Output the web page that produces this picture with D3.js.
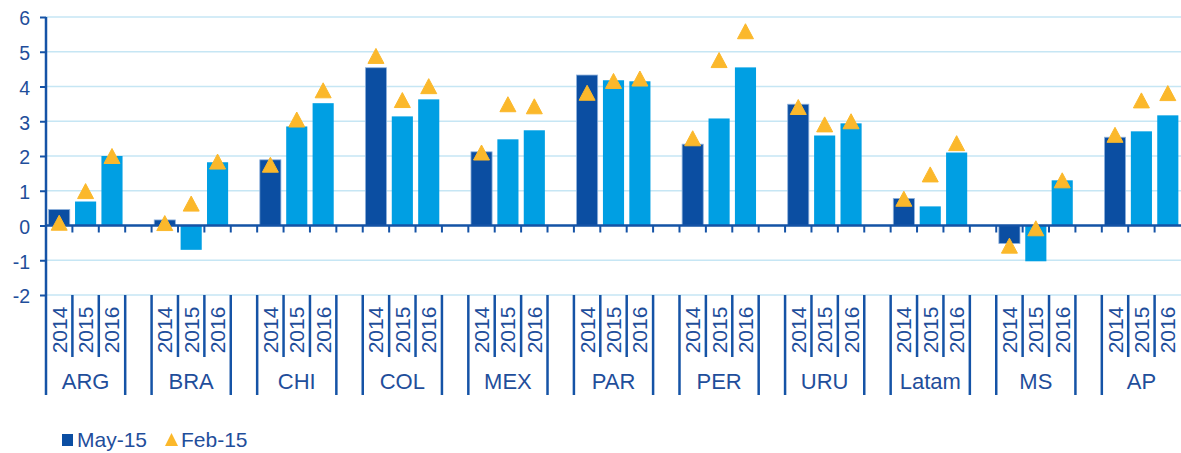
<!DOCTYPE html>
<html>
<head>
<meta charset="utf-8">
<script src="https://cdn.jsdelivr.net/npm/d3@7"></script>
<style>
  html, body { margin: 0; padding: 0; background: #fff; }
  svg { display: block; font-family: "Liberation Sans", Arial, sans-serif; }
</style>
</head>
<body>
<svg id="chart" width="1181" height="453"></svg>
<script>
// ---- data ----
const categories = ["ARG", "BRA", "CHI", "COL", "MEX", "PAR", "PER", "URU", "Latam", "MS", "AP"];
const years = ["2014", "2015", "2016"];
// May-15 forecasts, in category order, 2014/2015/2016 for each
const may15 = [
  0.46, 0.69, 2.00,
  0.16, -0.70, 1.82,
  1.89, 2.85, 3.52,
  4.54, 3.14, 3.63,
  2.12, 2.48, 2.74,
  4.33, 4.18, 4.15,
  2.34, 3.08, 4.55,
  3.49, 2.59, 2.94,
  0.78, 0.55, 2.10,
  -0.52, -1.03, 1.30,
  2.54, 2.71, 3.17
];
// Feb-15 forecasts
const feb15 = [
  0.08, 0.99, 2.00,
  0.07, 0.63, 1.84,
  1.75, 3.05, 3.89,
  4.88, 3.61, 4.01,
  2.10, 3.49, 3.43,
  3.82, 4.16, 4.23,
  2.51, 4.76, 5.59,
  3.41, 2.91, 3.00,
  0.77, 1.47, 2.37,
  -0.58, -0.08, 1.30,
  2.61, 3.60, 3.81
];
const yTicks = [-2, -1, 0, 1, 2, 3, 4, 5, 6];
const yTickLabels = ["-2", "-1", "0", "1", "2", "3", "4", "5", "6"];
const seriesNames = ["May-15", "Feb-15"];

// ---- layout ----
const svg = d3.select("#chart");
const mLeft = 46, mRight = 1181, mTop = 17, mBottom = 295;
const textColor = "#1f4e9b";
const axisColor = "#1553a6";
const darkBlue = "#0b4ea2";
const lightBlue = "#009fe3";
const triColor = "#fbb82b";
const gridColor = "#c6e6f4";

// slots: each category has 3 year slots, blank slot between categories
const slots = [];
categories.forEach((c, i) => {
  years.forEach(yr => slots.push(c + "|" + yr));
  if (i < categories.length - 1) slots.push("gap" + i);
});

const x = d3.scaleBand().domain(slots).range([mLeft, mRight]).paddingInner(0.2).paddingOuter(0.1);
const step = x.step();
const slotStart = k => x(slots[k]) - (step - x.bandwidth()) / 2;
const y = d3.scaleLinear().domain([-2, 6]).range([mBottom, mTop]);

const data = [];
categories.forEach((c, i) => {
  years.forEach((yr, j) => {
    const idx = i * 3 + j;
    data.push({cat: c, year: yr, key: c + "|" + yr, may: may15[idx], feb: feb15[idx], j});
  });
});

// gridlines
svg.append("g").selectAll("line").data(yTicks).join("line")
  .attr("x1", mLeft).attr("x2", mRight)
  .attr("y1", d => y(d)).attr("y2", d => y(d))
  .attr("stroke", gridColor).attr("stroke-width", 1.5);

// y axis
const yAxis = d3.axisLeft(y).tickValues(yTicks).tickSize(6).tickPadding(10)
  .tickFormat((d, i) => yTickLabels[i]);
const gy = svg.append("g").attr("transform", `translate(${mLeft},0)`).call(yAxis);
gy.select(".domain").remove();
gy.selectAll(".tick line").attr("stroke", axisColor).attr("stroke-width", 2);
gy.selectAll(".tick text").attr("fill", textColor).attr("font-size", 19.5)
  .attr("font-family", "Liberation Sans, Arial, sans-serif").attr("dy", "0.4em");

// bars
svg.append("g").selectAll("rect").data(data).join("rect")
  .attr("x", d => x(d.key))
  .attr("width", x.bandwidth())
  .attr("y", d => y(Math.max(0, d.may)))
  .attr("height", d => Math.abs(y(d.may) - y(0)))
  .attr("fill", d => d.j === 0 ? darkBlue : lightBlue)
  .attr("stroke", d => d.j === 0 ? "#8fb2dc" : "none")
  .attr("stroke-width", 0.8);

// zero axis line with small ticks below
svg.append("line").attr("x1", mLeft).attr("x2", mRight)
  .attr("y1", y(0)).attr("y2", y(0))
  .attr("stroke", axisColor).attr("stroke-width", 2.5);
svg.append("g").selectAll("line").data(d3.range(1, slots.length)).join("line")
  .attr("x1", k => slotStart(k)).attr("x2", k => slotStart(k))
  .attr("y1", y(0)).attr("y2", y(0) + 7)
  .attr("stroke", axisColor).attr("stroke-width", 2);

// vertical y axis line
svg.append("line").attr("x1", mLeft).attr("x2", mLeft)
  .attr("y1", mTop).attr("y2", 395)
  .attr("stroke", axisColor).attr("stroke-width", 2.5);

// triangles (Feb-15)
const tri = (cx, cy) => `M${cx},${cy - 7.5}L${cx + 8},${cy + 7.5}L${cx - 8},${cy + 7.5}Z`;
svg.append("g").selectAll("path").data(data).join("path")
  .attr("d", d => tri(x(d.key) + x.bandwidth() / 2, y(d.feb)))
  .attr("fill", triColor)
  .attr("stroke", triColor).attr("stroke-width", 1).attr("stroke-linejoin", "round");

// category axis: separators
const sepG = svg.append("g");
slots.forEach((s, k) => {
  if (k === 0) return;
  const prev = slots[k - 1];
  const isYearSep = !s.startsWith("gap") && !prev.startsWith("gap") && s.split("|")[0] === prev.split("|")[0];
  sepG.append("line")
    .attr("x1", slotStart(k)).attr("x2", slotStart(k))
    .attr("y1", mBottom).attr("y2", isYearSep ? 357 : 395)
    .attr("stroke", axisColor).attr("stroke-width", 2.5);
});

// year labels
svg.append("g").selectAll("text").data(data).join("text")
  .attr("transform", d => `translate(${x(d.key) + x.bandwidth() / 2 + 7.5},330) rotate(-90)`)
  .attr("text-anchor", "middle")
  .attr("fill", textColor).attr("font-size", 21)
  .text(d => d.year);

// category labels
svg.append("g").selectAll("text").data(categories).join("text")
  .attr("x", c => (x(c + "|2014") + x(c + "|2016") + x.bandwidth()) / 2)
  .attr("y", 389)
  .attr("text-anchor", "middle")
  .attr("fill", textColor).attr("font-size", 22)
  .text(c => c);

// legend
const lg = svg.append("g");
lg.append("rect").attr("x", 62).attr("y", 434).attr("width", 11).attr("height", 12).attr("fill", darkBlue);
lg.append("text").attr("x", 77).attr("y", 447).attr("fill", textColor).attr("font-size", 21).text(seriesNames[0]);
lg.append("path").attr("d", `M171.5,433L178,446L165,446Z`).attr("fill", triColor);
lg.append("text").attr("x", 181).attr("y", 447).attr("fill", textColor).attr("font-size", 21).text(seriesNames[1]);
</script>
</body>
</html>
